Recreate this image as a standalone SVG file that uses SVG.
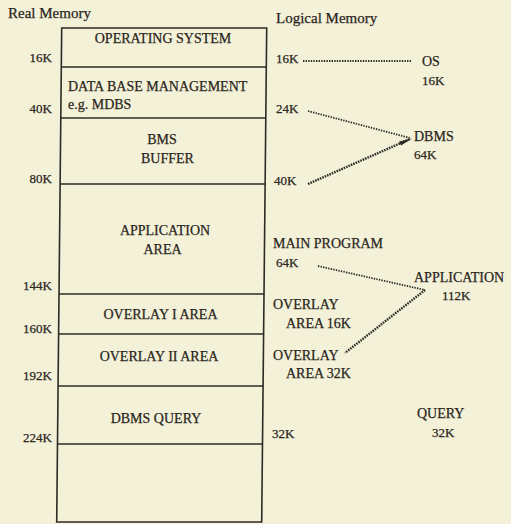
<svg xmlns="http://www.w3.org/2000/svg" width="511" height="524" viewBox="0 0 511 524">
<style>
text{font-family:"Liberation Serif","Times New Roman",serif;fill:#2b2620;stroke:#2b2620;stroke-width:0.25;font-size:14px}
.t{font-size:15px}
.k{font-size:13px}
.r{font-size:14px}
.c{text-anchor:middle}
.e{text-anchor:end}
.box{fill:none;stroke:#2e2a25;stroke-width:1.6}
.div{stroke:#2e2a25;stroke-width:1.5}
.dot{fill:none;stroke:#2e2a25;stroke-width:1.8;stroke-dasharray:1.4 1.2}
.dotb{fill:none;stroke:#2e2a25;stroke-width:2.4;stroke-dasharray:1.6 1}
</style>
<rect width="511" height="524" fill="#f4f1d9"/>
<g id="titles">
<text class="t" x="8" y="18">Real Memory</text>
<text class="t" x="276" y="23">Logical Memory</text>
</g>
<g id="real-memory">
<path class="box" d="M61.7,28 L266.7,28 L261.7,522 L56.7,522 Z"/>
<g id="os-area">
<text class="c" x="163" y="43">OPERATING SYSTEM</text>
<line class="div" x1="61.3" y1="67" x2="266.3" y2="67"/>
<text class="k e" x="52" y="62">16K</text>
</g>
<g id="dbm-area">
<text x="68" y="91">DATA BASE MANAGEMENT</text>
<text x="68" y="109">e.g. MDBS</text>
<line class="div" x1="60.8" y1="118" x2="265.8" y2="118"/>
<text class="k e" x="52" y="113">40K</text>
</g>
<g id="bms-buffer">
<text class="c" x="162" y="144">BMS</text>
<text class="c" x="167.5" y="163">BUFFER</text>
<line class="div" x1="60.1" y1="184" x2="265.1" y2="184"/>
<text class="k e" x="52" y="183">80K</text>
</g>
<g id="application-area">
<text class="c" x="165" y="235">APPLICATION</text>
<text class="c" x="162.5" y="254">AREA</text>
<line class="div" x1="59" y1="294" x2="264" y2="294"/>
<text class="k e" x="52" y="290">144K</text>
</g>
<g id="overlay1-area">
<text class="c" x="160.5" y="319">OVERLAY I AREA</text>
<line class="div" x1="58.6" y1="334" x2="263.6" y2="334"/>
<text class="k e" x="52" y="333">160K</text>
</g>
<g id="overlay2-area">
<text class="c" x="159" y="361">OVERLAY II AREA</text>
<line class="div" x1="58.1" y1="386" x2="263.1" y2="386"/>
<text class="k e" x="52" y="380">192K</text>
</g>
<g id="dbms-query">
<text class="c" x="156" y="423">DBMS QUERY</text>
<line class="div" x1="57.5" y1="444" x2="262.5" y2="444"/>
<text class="k e" x="52" y="442">224K</text>
</g>
</g>
<g id="logical-memory">
<g id="l-16k"><text class="k" x="276" y="63">16K</text></g>
<g id="os"><text class="r" x="422" y="66">OS</text><text class="k" x="422" y="85">16K</text></g>
<g id="l-24k"><text class="k" x="276" y="113">24K</text></g>
<g id="l-40k"><text class="k" x="274" y="185">40K</text></g>
<g id="dbms"><text class="r" x="414" y="141">DBMS</text><text class="k" x="414" y="159">64K</text></g>
<g id="main-program"><text class="r" x="273" y="248">MAIN PROGRAM</text><text class="k" x="276" y="267">64K</text></g>
<g id="application"><text class="r" x="414" y="282">APPLICATION</text><text class="k" x="442" y="300">112K</text></g>
<g id="overlay-16k"><text class="r" x="273" y="309">OVERLAY</text><text class="r" x="286" y="328">AREA 16K</text></g>
<g id="overlay-32k"><text class="r" x="273" y="360">OVERLAY</text><text class="r" x="286" y="378">AREA 32K</text></g>
<g id="l-32k"><text class="k" x="272" y="438">32K</text></g>
<g id="query"><text class="r" x="417" y="418">QUERY</text><text class="k" x="432" y="437">32K</text></g>
</g>
<g id="connectors">
<line class="dot" x1="303" y1="61" x2="412" y2="61"/>
<line class="dot" x1="308" y1="111" x2="410" y2="138"/>
<line class="dotb" x1="308" y1="184" x2="410" y2="139"/>
<path d="M412,138.5 L399,141.5 L401,145.5 Z" fill="#2e2a25"/>
<line class="dot" x1="318" y1="266" x2="425" y2="290"/>
<line class="dotb" x1="425" y1="290" x2="345" y2="353"/>
</g>
</svg>
